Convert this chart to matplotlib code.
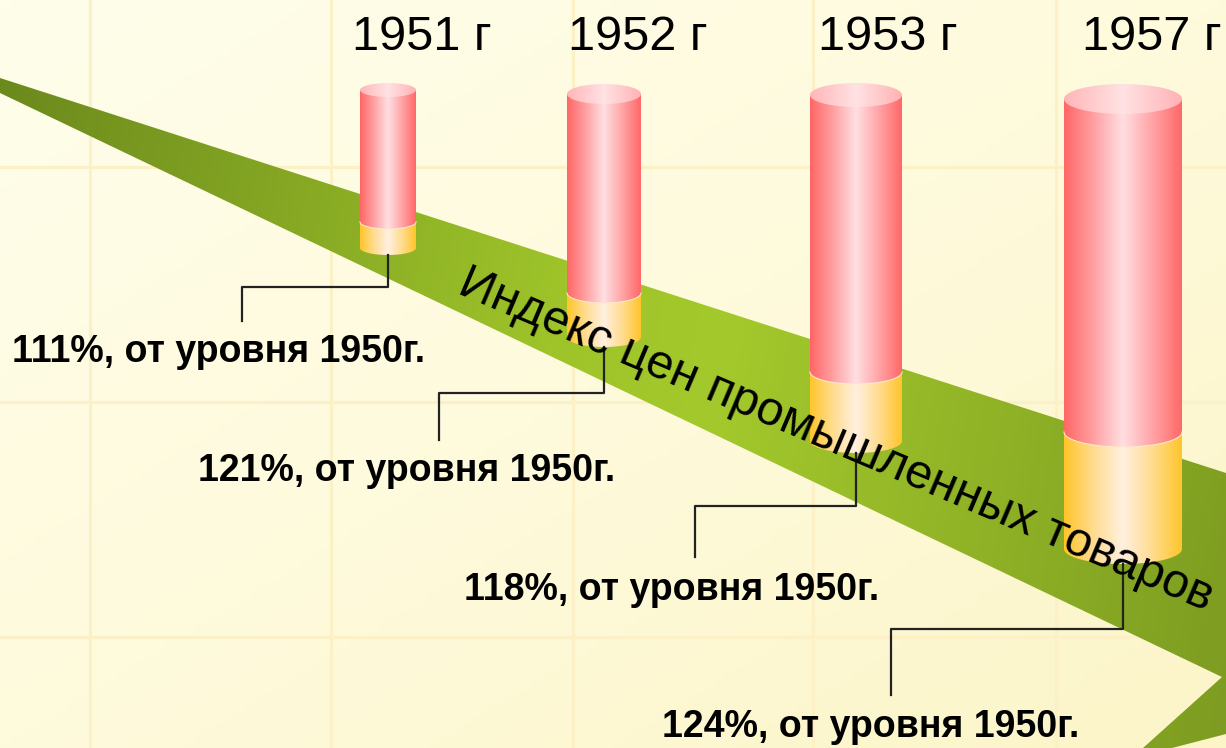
import matplotlib.pyplot as plt
import numpy as np
from matplotlib.colors import LinearSegmentedColormap
from matplotlib.patches import Polygon, Ellipse

plt.rcParams['font.family'] = ['Liberation Sans', 'DejaVu Sans']

# data
years = ['1951 г', '1952 г', '1953 г', '1957 г']
index_pct = [111, 121, 118, 124]
band_title = 'Индекс цен промышленных товаров'

# cylinder layout (pixels): centre x, half width, ellipse depth, top, red/yellow split, bottom
cyl_x = [388, 604, 856, 1123]
cyl_halfw = [28, 37, 46, 59]
cyl_depth = [7, 10, 12, 15]
cyl_top = [90, 94, 95, 99]
cyl_split = [222, 293, 372, 432]
cyl_bottom = [248, 337, 441, 549]

# callouts: y of the horizontal run, x of the drop, end of the drop
call_y = [287, 393, 506, 629]
call_x = [242, 439, 695, 891]
call_end = [321, 440, 557, 695]
label_x = [219, 407, 672, 871]
label_y = [352, 471, 590, 727]
year_x = [422, 638, 888, 1152]

grid_x = [90, 331, 573, 813, 1056]
grid_y = [167, 402, 637]

W, H = 1226, 748

fig = plt.figure(figsize=(12.26, 7.48), dpi=100)
ax = fig.add_axes([0, 0, 1, 1])

# background
bg_cmap = LinearSegmentedColormap.from_list('bg', ['#FFFEEB', '#FEFADC', '#FCF5C8'])
xx, yy = np.meshgrid(np.linspace(0, 1, 200), np.linspace(0, 1, 120))
ax.imshow((xx + yy) / 2, cmap=bg_cmap, extent=[0, W, H, 0], aspect='auto', zorder=0)

for gx in grid_x:
    ax.plot([gx, gx], [0, H], color='#FCF0C6', lw=2.2, zorder=1)
for gy in grid_y:
    ax.plot([0, W], [gy, gy], color='#FCF0C6', lw=2.2, zorder=1)

# green band (arrow shape running off the right edge)
band = Polygon([(0, 78), (W, 473), (W, 734), (1172, H), (1143, H), (1222, 677), (0, 93)],
               closed=True, transform=ax.transData)
green_cmap = LinearSegmentedColormap.from_list(
    'green', [(0, '#6A881C'), (0.45, '#9EC42A'), (0.58, '#A3C92C'), (1, '#7D9C21')])
gx_, gy_ = np.meshgrid(np.linspace(0, 1, 300), np.linspace(0, 1, 150))
im = ax.imshow(gx_ * 0.9 + gy_ * 0.1, cmap=green_cmap, extent=[0, W, H, 0], aspect='auto', zorder=2)
im.set_clip_path(band)

red_cmap = LinearSegmentedColormap.from_list('red', ['#FF6666', '#FFA0A2', '#FFDFE2', '#FFA4A6', '#FF6868'])
top_cmap = LinearSegmentedColormap.from_list('top', ['#FFB6B8', '#FFE2E4', '#FFB2B4'])
yel_cmap = LinearSegmentedColormap.from_list('yel', ['#FFC52A', '#FFDC90', '#FFF0E0', '#FFDC90', '#FFC52A'])
grad = np.linspace(0, 1, 256).reshape(1, -1)


def body(cx, a, b, y0, y1, cmap, z):
    t = np.linspace(np.pi, 0, 80)
    pts = [(cx - a, y0)] + list(zip(cx + a * np.cos(t), y1 + b * np.sin(t))) + [(cx + a, y0)]
    clip = Polygon(pts, closed=True, transform=ax.transData)
    img = ax.imshow(grad, cmap=cmap, extent=[cx - a, cx + a, y1 + b, y0], aspect='auto', zorder=z)
    img.set_clip_path(clip)


for i in range(len(years)):
    cx, a, b = cyl_x[i], cyl_halfw[i], cyl_depth[i]
    body(cx, a, b, cyl_split[i], cyl_bottom[i], yel_cmap, 3)
    body(cx, a, b, cyl_top[i], cyl_split[i], red_cmap, 4)
    t = np.linspace(np.pi, 0, 80)
    ax.plot(cx + a * np.cos(t), cyl_split[i] + b * np.sin(t), color='#FFE9C8', lw=0.8, zorder=4.5)
    cap = Ellipse((cx, cyl_top[i]), 2 * a, 2 * b, transform=ax.transData)
    img = ax.imshow(grad, cmap=top_cmap, extent=[cx - a, cx + a, cyl_top[i] + b, cyl_top[i] - b],
                    aspect='auto', zorder=5)
    img.set_clip_path(cap)

    # callout elbow
    ax.plot([cx, cx, call_x[i], call_x[i]],
            [cyl_bottom[i] + b, call_y[i], call_y[i], call_end[i]],
            color='#222222', lw=1.6, zorder=6)
    ax.text(label_x[i], label_y[i], f'{index_pct[i]}%, от уровня 1950г.',
            fontsize=27, fontweight='bold', ha='center', va='center', zorder=7)
    ax.text(year_x[i], 50, years[i], fontsize=35, ha='center', va='baseline', zorder=7)

ax.text(836, 440, band_title, fontsize=34.7, rotation=-23, rotation_mode='anchor',
        ha='center', va='center', zorder=7)

ax.set_xlim(0, W)
ax.set_ylim(H, 0)
ax.axis('off')
fig.savefig('out.png', dpi=100)
